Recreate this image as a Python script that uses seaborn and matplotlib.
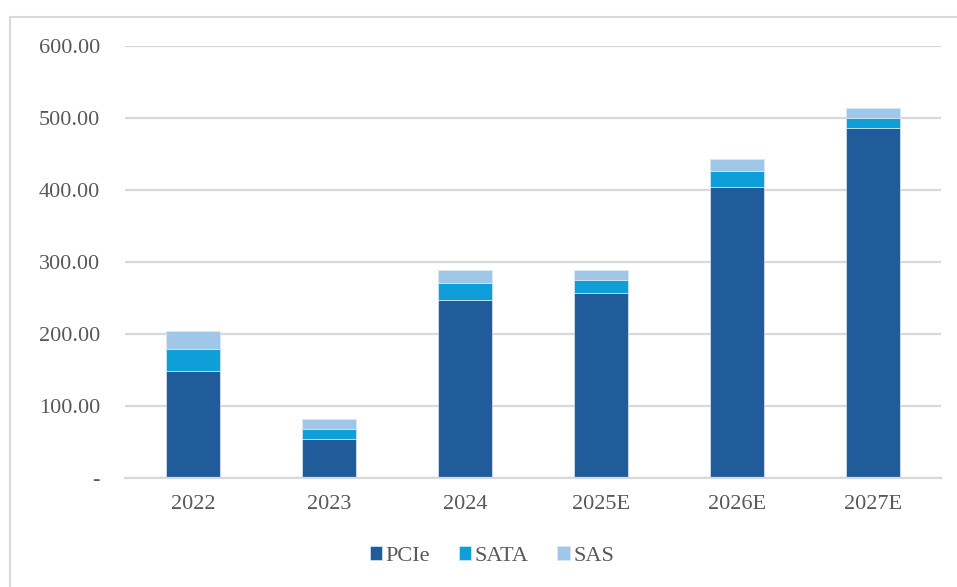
import pandas as pd
import matplotlib.pyplot as plt
import seaborn as sns
from matplotlib.lines import Line2D

# data
years = ["2022", "2023", "2024", "2025E", "2026E", "2027E"]
pcie = [149, 54, 247, 257, 405, 486]
sata = [30, 14, 24, 19, 22, 15]
sas = [26, 14, 19, 14, 16, 13]

colors = {"PCIe": "#1F5C99", "SATA": "#0E9FD8", "SAS": "#A0C6E8"}

df = pd.DataFrame({"year": years, "PCIe": pcie, "SATA": sata, "SAS": sas})

sns.set_theme(style="white")
plt.rcParams["font.family"] = ["Liberation Serif", "DejaVu Serif"]

fig = plt.figure(figsize=(9.57, 5.87), dpi=100)
ax = fig.add_axes([0.1306, 0.1852, 0.8524, 0.7359])

bottom = [0] * len(years)
for name in ["PCIe", "SATA", "SAS"]:
    sns.barplot(data=df, x="year", y=name, ax=ax, color=colors[name],
                width=0.4, bottom=bottom, label=name,
                edgecolor="#DCEAF6", linewidth=0.5, saturation=1)
    bottom = [b + v for b, v in zip(bottom, df[name])]

ax.set_ylim(0, 600)
ax.set_yticks(range(0, 601, 100))
ax.set_yticklabels(["-"] + [f"{v:.2f}" for v in range(100, 601, 100)])
ax.yaxis.grid(True, color="#D9D9D9", linewidth=1.6)
ax.set_axisbelow(True)
for s in ["top", "right", "left"]:
    ax.spines[s].set_visible(False)
ax.spines["bottom"].set_color("#D9D9D9")
ax.spines["bottom"].set_linewidth(1.6)
ax.tick_params(axis="both", length=0, labelsize=16, labelcolor="#595959")
ax.tick_params(axis="y", pad=18)
ax.tick_params(axis="x", pad=12)
ax.set_xlabel("")
ax.set_ylabel("")

handles, labels = ax.get_legend_handles_labels()
ax.legend_ = None
fig.legend(handles, labels, loc="center", bbox_to_anchor=(492 / 957, 1 - 556 / 587),
           ncol=3, frameon=False, fontsize=16, handlelength=0.55, handleheight=0.55,
           handletextpad=0.15, columnspacing=1.3, labelcolor="#595959")

# light frame at the top and left edges
fig.add_artist(Line2D([10 / 957, 10 / 957], [0, 1 - 17 / 587],
                      transform=fig.transFigure, color="#D9D9D9", linewidth=1.5))
fig.add_artist(Line2D([10 / 957, 1], [1 - 17 / 587, 1 - 17 / 587],
                      transform=fig.transFigure, color="#D9D9D9", linewidth=1.5))

fig.savefig("out.png", dpi=100)
